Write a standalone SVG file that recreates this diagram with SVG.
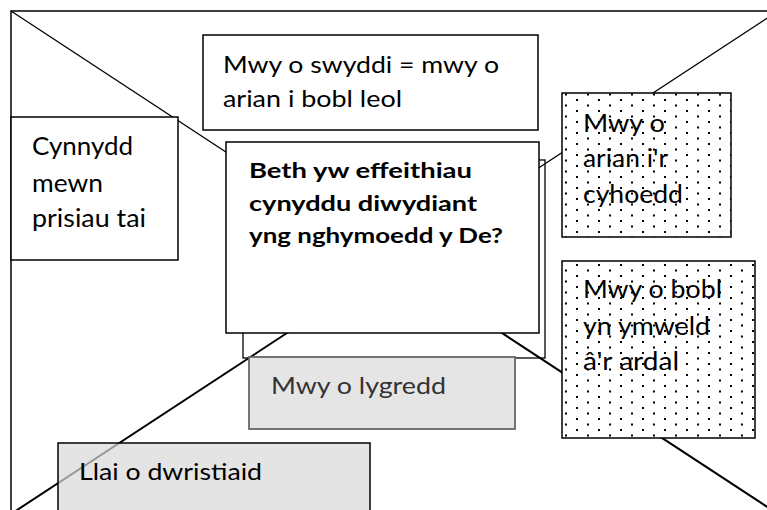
<svg xmlns="http://www.w3.org/2000/svg" width="767" height="510" viewBox="0 0 767 510">
<style>
.t{font-family:Lato,"Liberation Sans",sans-serif;fill:#000}
.b{font-weight:bold}
.box{fill:#fff;stroke:#000;stroke-width:1.5}
.dl{fill:url(#dots);stroke:#000;stroke-width:1.5}
.d1{stroke:#000;stroke-width:1.3;fill:none}
.d2{stroke:#000;stroke-width:2;fill:none}
</style>
<defs>
<pattern id="dots" patternUnits="userSpaceOnUse" x="5" y="1" width="22" height="11">
<rect x="-1" y="-1" width="2" height="2" fill="#000"/>
<rect x="21" y="-1" width="2" height="2" fill="#000"/>
<rect x="-1" y="10" width="2" height="2" fill="#000"/>
<rect x="21" y="10" width="2" height="2" fill="#000"/>
<rect x="10" y="4.5" width="2" height="2" fill="#000"/>
</pattern>
</defs>
<rect width="767" height="510" fill="#fff"/>
<g id="frame"><rect x="11" y="11" width="767" height="503" fill="none" stroke="#000" stroke-width="1.5"/></g>
<g id="connectors">
<line class="d1" x1="11" y1="11" x2="394.5" y2="262.5"/>
<line class="d1" x1="778" y1="11" x2="394.5" y2="262.5"/>
<line class="d2" x1="394.5" y1="262.5" x2="778" y2="514"/>
<line class="d2" x1="394.5" y1="262.5" x2="11" y2="514"/>
</g>
<g id="back-box"><rect x="243" y="160" width="302" height="198" fill="none" stroke="#000" stroke-width="1.3"/></g>
<g id="swyddi">
<rect class="box" x="203" y="35" width="335" height="95"/>
<text class="t" font-size="24" x="223" y="73" textLength="276" lengthAdjust="spacingAndGlyphs">Mwy o swyddi = mwy o</text>
<text class="t" font-size="24" x="223" y="107" textLength="179" lengthAdjust="spacingAndGlyphs">arian i bobl leol</text>
</g>
<g id="prisiau">
<rect class="box" x="11" y="117" width="167" height="143"/>
<text class="t" font-size="25" x="32" y="155" textLength="101" lengthAdjust="spacingAndGlyphs">Cynnydd</text>
<text class="t" font-size="25" x="32" y="192" textLength="71" lengthAdjust="spacingAndGlyphs">mewn</text>
<text class="t" font-size="25" x="32" y="227" textLength="114" lengthAdjust="spacingAndGlyphs">prisiau tai</text>
</g>
<g id="centre">
<rect class="box" x="226" y="142" width="313" height="191"/>
<text class="t b" font-size="21.5" x="249" y="178" textLength="223" lengthAdjust="spacingAndGlyphs">Beth yw effeithiau</text>
<text class="t b" font-size="21.5" x="249" y="211" textLength="228" lengthAdjust="spacingAndGlyphs">cynyddu diwydiant</text>
<text class="t b" font-size="21.5" x="249" y="243" textLength="254" lengthAdjust="spacingAndGlyphs">yng nghymoedd y De?</text>
</g>
<g id="cyhoedd">
<rect x="562" y="93" width="169" height="144" fill="#fff"/>
<text class="t" font-size="25" x="583" y="132" textLength="82" lengthAdjust="spacingAndGlyphs">Mwy o</text>
<text class="t" font-size="25" x="583" y="167" textLength="85" lengthAdjust="spacingAndGlyphs">arian i'r</text>
<text class="t" font-size="25" x="583" y="203" textLength="100" lengthAdjust="spacingAndGlyphs">cyhoedd</text>
<rect class="dl" x="562" y="93" width="169" height="144"/>
</g>
<g id="ymweld">
<rect x="562" y="261" width="193" height="177" fill="#fff"/>
<text class="t" font-size="25" x="583" y="298" textLength="139" lengthAdjust="spacingAndGlyphs">Mwy o bobl</text>
<text class="t" font-size="25" x="583" y="335" textLength="127" lengthAdjust="spacingAndGlyphs">yn ymweld</text>
<text class="t" font-size="25" x="583" y="370" textLength="96" lengthAdjust="spacingAndGlyphs">â'r ardal</text>
<rect class="dl" x="562" y="261" width="193" height="177"/>
</g>
<g id="lygredd">
<rect x="249" y="357" width="266" height="72" fill="#e5e5e5" stroke="#666" stroke-width="1.8"/>
<text class="t" font-size="24" x="271" y="394" textLength="175" lengthAdjust="spacingAndGlyphs" style="fill:#333">Mwy o lygredd</text>
</g>
<g id="twristiaid">
<rect x="58" y="443" width="312" height="80" fill="#d9d9d9" fill-opacity="0.7" stroke="#000" stroke-width="1.5"/>
<text class="t" font-size="24" x="79" y="480" textLength="183" lengthAdjust="spacingAndGlyphs">Llai o dwristiaid</text>
</g>
</svg>
